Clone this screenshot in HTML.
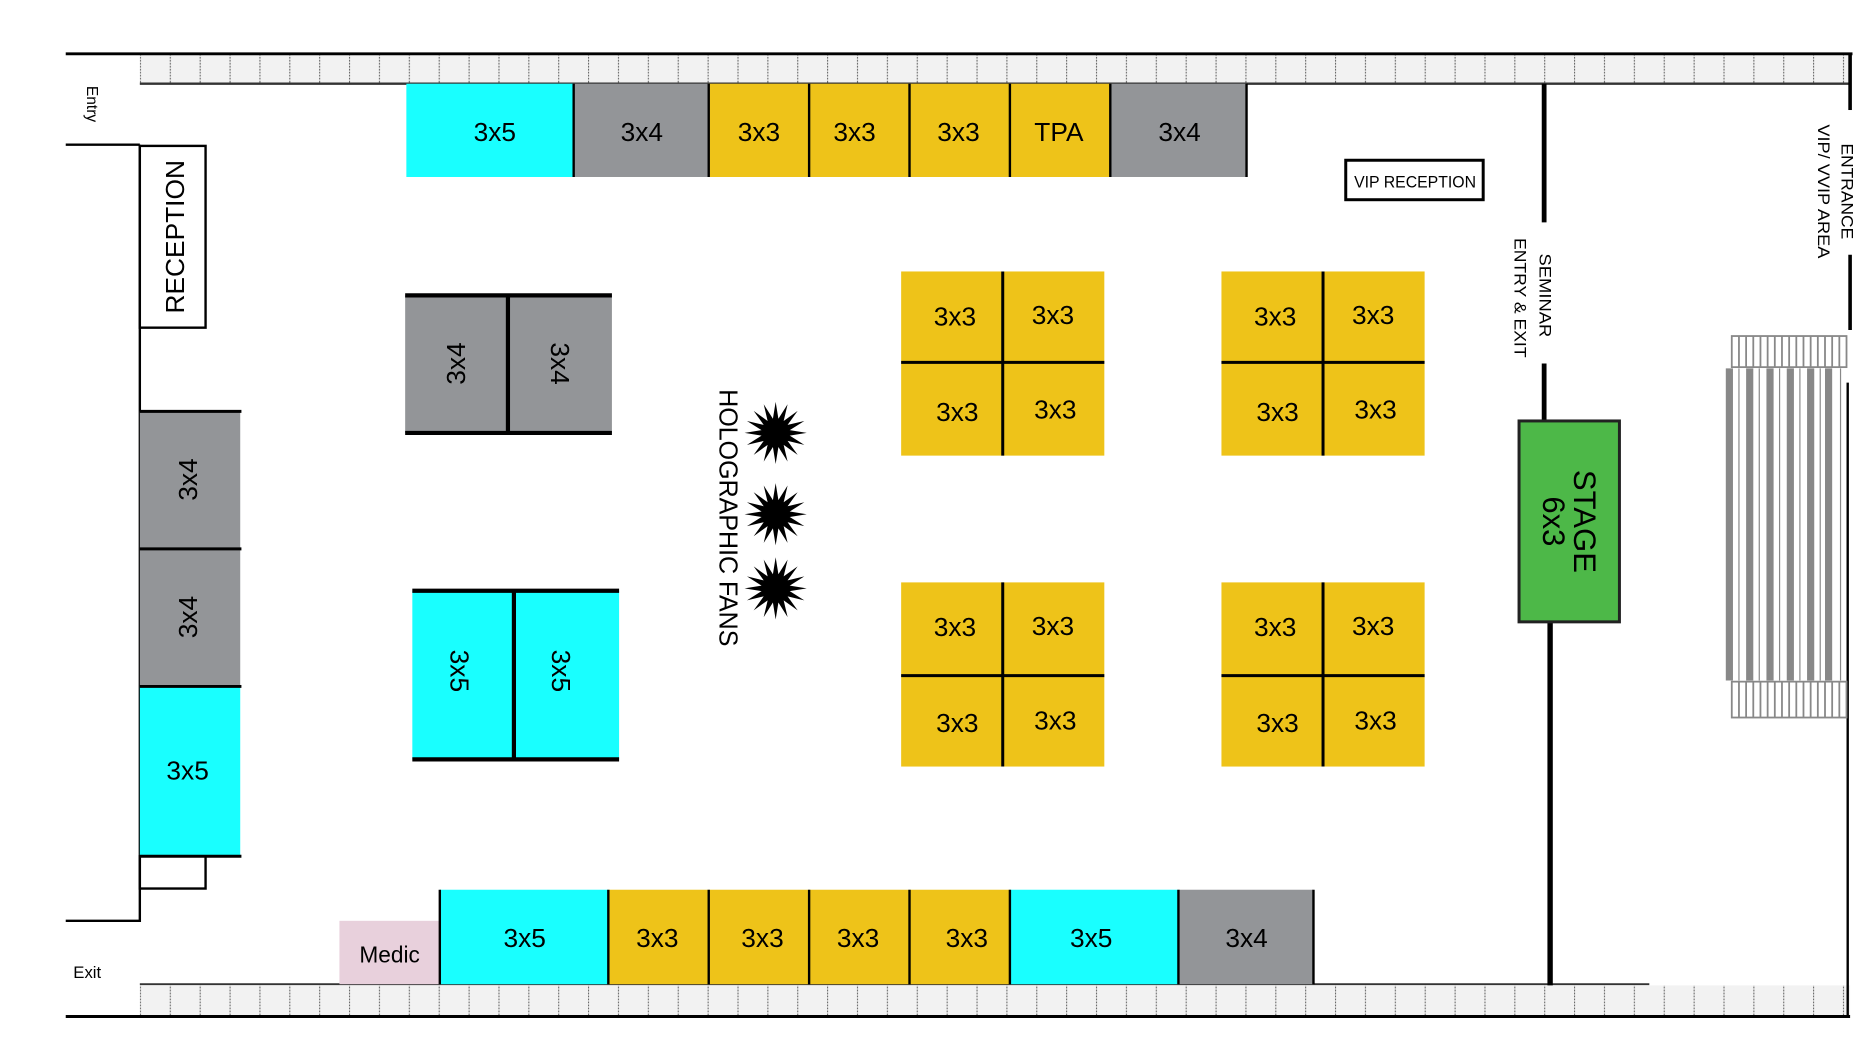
<!DOCTYPE html>
<html><head><meta charset="utf-8"><style>
html,body{margin:0;padding:0;background:#fff;width:1874px;height:1044px;overflow:hidden}
svg{display:block}
text{font-family:"Liberation Sans",sans-serif;fill:#000}
</style></head><body>
<svg width="1874" height="1044" viewBox="0 0 1568 873" preserveAspectRatio="none" xmlns="http://www.w3.org/2000/svg">
<defs>
<pattern id="cells" x="117" y="0" width="25" height="900" patternUnits="userSpaceOnUse">
<rect x="0" y="0" width="25" height="900" fill="#f2f2f2"/>
<line x1="0.5" y1="0" x2="0.5" y2="900" stroke="#555" stroke-width="0.8" stroke-dasharray="1.5,1"/>
</pattern>
<polygon id="star" points="26,0 11.8,2.3 24,10 10,6.7 18.4,18.4 6.7,10 10,24 2.3,11.8 0,26 -2.3,11.8 -10,24 -6.7,10 -18.4,18.4 -10,6.7 -24,10 -11.8,2.3 -26,0 -11.8,-2.3 -24,-10 -10,-6.7 -18.4,-18.4 -6.7,-10 -10,-24 -2.3,-11.8 0,-26 2.3,-11.8 10,-24 6.7,-10 18.4,-18.4 10,-6.7 24,-10 11.8,-2.3" fill="#000"/>
</defs>

<rect x="117" y="45" width="1431" height="25" fill="url(#cells)"/>
<line x1="55" y1="45" x2="1550" y2="45" stroke="#000" stroke-width="2.5"/>
<line x1="117" y1="70" x2="1548" y2="70" stroke="#333" stroke-width="2"/>
<rect x="117" y="824" width="1431" height="26" fill="url(#cells)"/>
<line x1="117" y1="823" x2="1380" y2="823" stroke="#333" stroke-width="1.5"/>
<line x1="55" y1="850" x2="1548" y2="850" stroke="#000" stroke-width="2.5"/>

<line x1="55" y1="121" x2="117" y2="121" stroke="#000" stroke-width="2"/>
<line x1="117" y1="121" x2="117" y2="771" stroke="#000" stroke-width="2"/>
<line x1="55" y1="770" x2="117" y2="770" stroke="#000" stroke-width="2"/>
<text transform="translate(73,87) rotate(90)" font-size="13" text-anchor="middle">Entry</text>
<text x="73" y="818" font-size="14" text-anchor="middle">Exit</text>

<line x1="1548" y1="44" x2="1548" y2="92" stroke="#000" stroke-width="3"/>
<line x1="1548" y1="213" x2="1548" y2="276" stroke="#000" stroke-width="3"/>
<line x1="1546" y1="320" x2="1546" y2="850" stroke="#000" stroke-width="2"/>
<text transform="translate(1541,160) rotate(90)" font-size="14" text-anchor="middle" textLength="80" lengthAdjust="spacingAndGlyphs">ENTRANCE</text>
<text transform="translate(1521,160) rotate(90)" font-size="14" text-anchor="middle" textLength="112" lengthAdjust="spacingAndGlyphs">VIP/ VVIP AREA</text>

<line x1="1292" y1="70" x2="1292" y2="186" stroke="#000" stroke-width="4"/>
<line x1="1292" y1="304" x2="1292" y2="352" stroke="#000" stroke-width="4"/>
<line x1="1297" y1="520" x2="1297" y2="824" stroke="#000" stroke-width="4.5"/>
<text transform="translate(1288,247) rotate(90)" font-size="14" text-anchor="middle" textLength="70" lengthAdjust="spacingAndGlyphs">SEMINAR</text>
<text transform="translate(1267,249) rotate(90)" font-size="14" text-anchor="middle" textLength="100" lengthAdjust="spacingAndGlyphs">ENTRY &amp; EXIT</text>

<rect x="1126" y="134" width="115" height="33" fill="#fff" stroke="#000" stroke-width="2.5"/>
<text x="1184" y="157" font-size="14" text-anchor="middle" textLength="102" lengthAdjust="spacingAndGlyphs">VIP RECEPTION</text>

<rect x="1271" y="352" width="84" height="168" fill="#4db848" stroke="#222" stroke-width="2.5"/>
<text transform="translate(1313,436) rotate(90)" font-size="26" text-anchor="middle"><tspan x="0" y="-4">STAGE</tspan><tspan x="0" y="22">6x3</tspan></text>

<g stroke="#888" fill="none">
<rect x="1449" y="281" width="96" height="26" stroke-width="1.5"/>
<rect x="1449" y="570" width="96" height="30" stroke-width="1.5"/>
<g stroke-width="1.5">
<line x1="1455" y1="281" x2="1455" y2="307"/><line x1="1461" y1="281" x2="1461" y2="307"/><line x1="1467" y1="281" x2="1467" y2="307"/><line x1="1473" y1="281" x2="1473" y2="307"/><line x1="1479" y1="281" x2="1479" y2="307"/><line x1="1485" y1="281" x2="1485" y2="307"/><line x1="1491" y1="281" x2="1491" y2="307"/><line x1="1497" y1="281" x2="1497" y2="307"/><line x1="1503" y1="281" x2="1503" y2="307"/><line x1="1509" y1="281" x2="1509" y2="307"/><line x1="1515" y1="281" x2="1515" y2="307"/><line x1="1521" y1="281" x2="1521" y2="307"/><line x1="1527" y1="281" x2="1527" y2="307"/><line x1="1533" y1="281" x2="1533" y2="307"/><line x1="1539" y1="281" x2="1539" y2="307"/>
<line x1="1455" y1="570" x2="1455" y2="600"/><line x1="1461" y1="570" x2="1461" y2="600"/><line x1="1467" y1="570" x2="1467" y2="600"/><line x1="1473" y1="570" x2="1473" y2="600"/><line x1="1479" y1="570" x2="1479" y2="600"/><line x1="1485" y1="570" x2="1485" y2="600"/><line x1="1491" y1="570" x2="1491" y2="600"/><line x1="1497" y1="570" x2="1497" y2="600"/><line x1="1503" y1="570" x2="1503" y2="600"/><line x1="1509" y1="570" x2="1509" y2="600"/><line x1="1515" y1="570" x2="1515" y2="600"/><line x1="1521" y1="570" x2="1521" y2="600"/><line x1="1527" y1="570" x2="1527" y2="600"/><line x1="1533" y1="570" x2="1533" y2="600"/><line x1="1539" y1="570" x2="1539" y2="600"/>
</g>
<g stroke-width="6">
<line x1="1447" y1="308" x2="1447" y2="569"/><line x1="1464" y1="308" x2="1464" y2="569"/><line x1="1481" y1="308" x2="1481" y2="569"/><line x1="1498" y1="308" x2="1498" y2="569"/><line x1="1515" y1="308" x2="1515" y2="569"/><line x1="1530" y1="308" x2="1530" y2="569"/>
</g>
<g stroke-width="1"><line x1="1455" y1="308" x2="1455" y2="569"/><line x1="1472" y1="308" x2="1472" y2="569"/><line x1="1489" y1="308" x2="1489" y2="569"/><line x1="1506" y1="308" x2="1506" y2="569"/><line x1="1523" y1="308" x2="1523" y2="569"/><line x1="1540" y1="308" x2="1540" y2="569"/></g>
</g>

<g stroke="none">
<rect x="340" y="70" width="140" height="78" fill="#19ffff"/>
<rect x="480" y="70" width="113" height="78" fill="#939598"/>
<rect x="593" y="70" width="336" height="78" fill="#eec319"/>
<rect x="929" y="70" width="114" height="78" fill="#939598"/>
</g>
<g stroke="#000" stroke-width="2">
<line x1="480" y1="70" x2="480" y2="148"/><line x1="593" y1="70" x2="593" y2="148"/><line x1="677" y1="70" x2="677" y2="148"/><line x1="761" y1="70" x2="761" y2="148"/><line x1="845" y1="70" x2="845" y2="148"/><line x1="929" y1="70" x2="929" y2="148"/><line x1="1043" y1="70" x2="1043" y2="148"/>
</g>
<g font-size="22" text-anchor="middle">
<text x="414" y="118">3x5</text><text x="537" y="118">3x4</text><text x="635" y="118">3x3</text><text x="715" y="118">3x3</text><text x="802" y="118">3x3</text><text x="886" y="118">TPA</text><text x="987" y="118">3x4</text>
</g>

<rect x="117" y="122" width="55" height="152" fill="#fff" stroke="#000" stroke-width="2"/>
<text transform="translate(154,198) rotate(-90)" font-size="22" text-anchor="middle">RECEPTION</text>

<rect x="117" y="344" width="84" height="230" fill="#939598"/>
<rect x="117" y="574" width="84" height="142" fill="#19ffff"/>
<g stroke="#000" stroke-width="2.5"><line x1="117" y1="344" x2="202" y2="344"/><line x1="117" y1="459" x2="202" y2="459"/><line x1="117" y1="574" x2="202" y2="574"/><line x1="117" y1="716" x2="202" y2="716"/></g>
<rect x="117" y="716" width="55" height="27" fill="none" stroke="#000" stroke-width="2"/>
<text transform="translate(165,401) rotate(-90)" font-size="22" text-anchor="middle">3x4</text>
<text transform="translate(165,516) rotate(-90)" font-size="22" text-anchor="middle">3x4</text>
<text x="157" y="652" font-size="22" text-anchor="middle">3x5</text>

<rect x="339" y="247" width="173" height="115" fill="#939598"/>
<g stroke="#000" stroke-width="3.5"><line x1="339" y1="247" x2="512" y2="247"/><line x1="339" y1="362" x2="512" y2="362"/><line x1="425" y1="247" x2="425" y2="362"/></g>
<text transform="translate(389,304) rotate(-90)" font-size="22" text-anchor="middle">3x4</text>
<text transform="translate(461,304) rotate(90)" font-size="22" text-anchor="middle">3x4</text>

<rect x="345" y="494" width="173" height="141" fill="#19ffff"/>
<g stroke="#000" stroke-width="3.5"><line x1="345" y1="494" x2="518" y2="494"/><line x1="345" y1="635" x2="518" y2="635"/><line x1="430" y1="494" x2="430" y2="635"/></g>
<text transform="translate(377,561) rotate(90)" font-size="22" text-anchor="middle">3x5</text>
<text transform="translate(462,561) rotate(90)" font-size="22" text-anchor="middle">3x5</text>

<text transform="translate(602,433) rotate(90)" font-size="22" text-anchor="middle" textLength="215" lengthAdjust="spacingAndGlyphs">HOLOGRAPHIC FANS</text>
<use href="#star" x="649" y="362"/>
<use href="#star" x="649" y="430"/>
<use href="#star" x="649" y="492"/>

<g fill="#eec319">
<rect x="754" y="227" width="170" height="154"/><rect x="1022" y="227" width="170" height="154"/>
<rect x="754" y="487" width="170" height="154"/><rect x="1022" y="487" width="170" height="154"/>
</g>
<g stroke="#000" stroke-width="2.5">
<line x1="839" y1="227" x2="839" y2="381"/><line x1="754" y1="303" x2="924" y2="303"/>
<line x1="1107" y1="227" x2="1107" y2="381"/><line x1="1022" y1="303" x2="1192" y2="303"/>
<line x1="839" y1="487" x2="839" y2="641"/><line x1="754" y1="565" x2="924" y2="565"/>
<line x1="1107" y1="487" x2="1107" y2="641"/><line x1="1022" y1="565" x2="1192" y2="565"/>
</g>
<g font-size="22" text-anchor="middle">
<text x="799" y="272">3x3</text><text x="881" y="271">3x3</text><text x="801" y="352">3x3</text><text x="883" y="350">3x3</text>
<text x="1067" y="272">3x3</text><text x="1149" y="271">3x3</text><text x="1069" y="352">3x3</text><text x="1151" y="350">3x3</text>
<text x="799" y="532">3x3</text><text x="881" y="531">3x3</text><text x="801" y="612">3x3</text><text x="883" y="610">3x3</text>
<text x="1067" y="532">3x3</text><text x="1149" y="531">3x3</text><text x="1069" y="612">3x3</text><text x="1151" y="610">3x3</text>
</g>

<rect x="284" y="770" width="84" height="53" fill="#e8d0dc"/>
<rect x="368" y="744" width="141" height="79" fill="#19ffff"/>
<rect x="509" y="744" width="336" height="79" fill="#eec319"/>
<rect x="845" y="744" width="141" height="79" fill="#19ffff"/>
<rect x="986" y="744" width="113" height="79" fill="#939598"/>
<g stroke="#000" stroke-width="2">
<line x1="368" y1="744" x2="368" y2="823"/><line x1="509" y1="744" x2="509" y2="823"/><line x1="593" y1="744" x2="593" y2="823"/><line x1="677" y1="744" x2="677" y2="823"/><line x1="761" y1="744" x2="761" y2="823"/><line x1="845" y1="744" x2="845" y2="823"/><line x1="986" y1="744" x2="986" y2="823"/><line x1="1099" y1="744" x2="1099" y2="823"/>
</g>
<text x="326" y="805" font-size="19" text-anchor="middle">Medic</text>
<g font-size="22" text-anchor="middle">
<text x="439" y="792">3x5</text><text x="550" y="792">3x3</text><text x="638" y="792">3x3</text><text x="718" y="792">3x3</text><text x="809" y="792">3x3</text><text x="913" y="792">3x5</text><text x="1043" y="792">3x4</text>
</g>
</svg>
</body></html>
